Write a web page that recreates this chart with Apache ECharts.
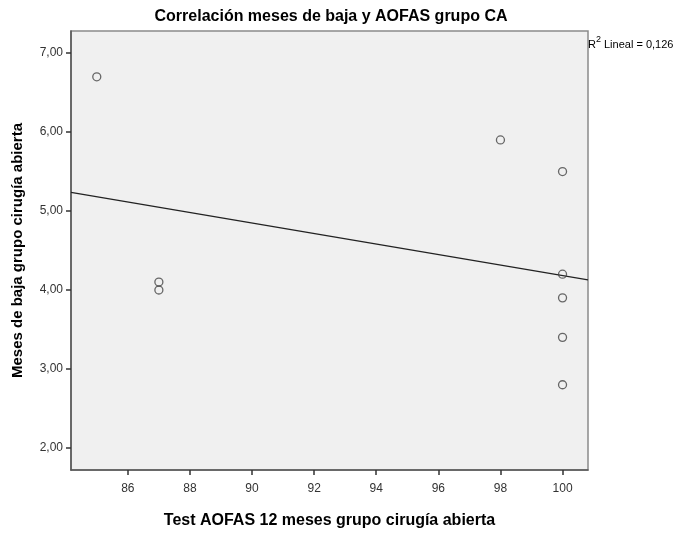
<!DOCTYPE html>
<html>
<head>
<meta charset="utf-8">
<script src="https://cdn.jsdelivr.net/npm/echarts@6/dist/echarts.min.js"></script>
<style>html,body{margin:0;padding:0;background:#fff}#c{width:682px;height:534px}</style>
</head>
<body>
<div id="c"></div>
<script>
const aofas = [85, 87, 87, 98, 100, 100, 100, 100, 100];
const mesesBaja = [6.7, 4.1, 4.0, 5.9, 5.5, 4.2, 3.9, 3.4, 2.8];
const xTicks = [86, 88, 90, 92, 94, 96, 98, 100];
const yTicks = [2, 3, 4, 5, 6, 7];
const xMin = 84.17, xMax = 100.82, yMin = 1.72, yMax = 7.28;

// least-squares fit
const n = aofas.length;
const mx = aofas.reduce((a, b) => a + b, 0) / n;
const my = mesesBaja.reduce((a, b) => a + b, 0) / n;
let sxy = 0, sxx = 0;
for (let i = 0; i < n; i++) { sxy += (aofas[i] - mx) * (mesesBaja[i] - my); sxx += (aofas[i] - mx) ** 2; }
const slope = sxy / sxx, icpt = my - slope * mx;
const fitLine = [[xMin, icpt + slope * xMin], [xMax, icpt + slope * xMax]];

const chart = echarts.init(document.getElementById('c'));
const font = 'Liberation Sans, Arial, sans-serif';
chart.setOption({
  animation: false,
  backgroundColor: '#ffffff',
  title: {
    text: 'Correlación meses de baja y AOFAS grupo CA',
    left: 326, top: 4, textAlign: 'center',
    textStyle: { fontFamily: font, fontSize: 16, fontWeight: 'bold', color: '#000' }
  },
  graphic: [{
    type: 'text', left: 588, top: 35,
    style: {
      text: '{s|R}{sup|2}{s| Lineal = 0,126}',
      rich: {
        s: { fontFamily: font, fontSize: 11, fill: '#000', verticalAlign: 'bottom' },
        sup: { fontFamily: font, fontSize: 9, fill: '#000', verticalAlign: 'top', padding: [0, 0, 6, 0] }
      }
    }
  }],
  grid: {
    left: 71, right: 94, top: 31, bottom: 61,
    show: true, backgroundColor: '#f0f0f0', borderColor: '#8a8a8a', borderWidth: 1.5
  },
  xAxis: {
    type: 'value', min: xMin, max: xMax,
    name: 'Test AOFAS 12 meses grupo cirugía abierta',
    nameLocation: 'middle', nameGap: 43,
    nameTextStyle: { fontFamily: font, fontSize: 16, fontWeight: 'bold', color: '#000' },
    axisLine: { show: true, lineStyle: { color: '#555', width: 1.5 } },
    axisTick: { show: true, customValues: xTicks, length: 5, lineStyle: { color: '#333', width: 1.5 } },
    axisLabel: { customValues: xTicks, fontFamily: font, fontSize: 12, color: '#333', margin: 13 },
    splitLine: { show: false }
  },
  yAxis: {
    type: 'value', min: yMin, max: yMax,
    name: 'Meses de baja grupo cirugía abierta',
    nameLocation: 'middle', nameGap: 46, nameRotate: 90,
    nameTextStyle: { fontFamily: font, fontSize: 15, fontWeight: 'bold', color: '#000' },
    axisLine: { show: true, lineStyle: { color: '#555', width: 1.5 } },
    axisTick: { show: true, customValues: yTicks, length: 5, lineStyle: { color: '#333', width: 1.5 } },
    axisLabel: {
      customValues: yTicks, fontFamily: font, fontSize: 12, color: '#333', margin: 8,
      formatter: v => v.toFixed(2).replace('.', ',')
    },
    splitLine: { show: false }
  },
  series: [
    {
      type: 'line', data: fitLine, showSymbol: false, silent: true,
      lineStyle: { color: '#222', width: 1.2 }, z: 2
    },
    {
      type: 'scatter', data: aofas.map((x, i) => [x, mesesBaja[i]]),
      symbol: 'circle', symbolSize: 8,
      itemStyle: { color: 'rgba(0,0,0,0)', borderColor: '#444', borderWidth: 1.3 }, z: 3
    }
  ]
});
</script>
</body>
</html>
